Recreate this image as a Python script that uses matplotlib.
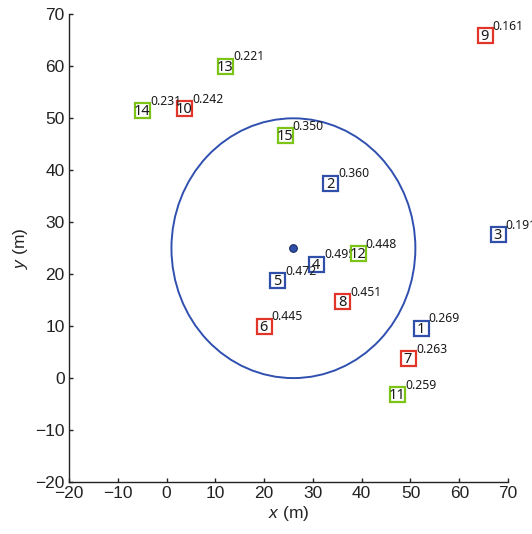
import matplotlib
matplotlib.use("Agg")
import matplotlib.pyplot as plt
from matplotlib.patches import Circle

# ---- data ----
ids = [1, 2, 3, 4, 5, 6, 7, 8, 9, 10, 11, 12, 13, 14, 15]
xs = [52.1, 33.6, 67.9, 30.7, 22.6, 19.9, 49.5, 36.0, 65.2, 3.6, 47.3, 39.2, 12.0, -5.0, 24.2]
ys = [9.7, 37.6, 27.7, 22.0, 18.8, 10.1, 3.8, 14.8, 66.0, 51.9, -3.1, 24.0, 60.1, 51.6, 46.7]
vals = ["0.269", "0.360", "0.191", "0.495", "0.472", "0.445", "0.263", "0.451",
        "0.161", "0.242", "0.259", "0.448", "0.221", "0.231", "0.350"]
groups = ["b", "b", "b", "b", "b", "r", "r", "r", "r", "r", "g", "g", "g", "g", "g"]
center = (26, 25)
radius = 25
xticks = [-20, -10, 0, 10, 20, 30, 40, 50, 60, 70]
yticks = [-20, -10, 0, 10, 20, 30, 40, 50, 60, 70]

colors = {"b": "#2f4fa8", "r": "#e2352a", "g": "#7cc416"}

plt.rcParams["font.family"] = ["Liberation Sans", "DejaVu Sans"]
plt.rcParams["mathtext.fontset"] = "custom"
plt.rcParams["mathtext.it"] = "Liberation Sans:italic"
plt.rcParams["mathtext.rm"] = "Liberation Sans"

fig = plt.figure(figsize=(5.32, 5.34), dpi=100)
ax = fig.add_axes([0.1297, 0.0974, 0.8253, 0.8756])

ax.add_patch(Circle(center, radius, fill=False, edgecolor="#3050b0", lw=1.4, zorder=1))
ax.plot([center[0]], [center[1]], "o", ms=5.5, mfc="#2f4fa8", mec="#1a2a60", mew=0.8, zorder=2)

for i, (n, x, y, v, g) in enumerate(zip(ids, xs, ys, vals, groups)):
    z = 3 + i * 0.1
    ax.plot([x], [y], "s", ms=10.8, mfc="white", mec=colors[g], mew=1.6, zorder=z)
    ax.annotate(str(n), (x, y), xytext=(0, -1), textcoords="offset points",
                ha="center", va="center", fontsize=10.5, family="Noto Sans",
                color="#1a1a1a", zorder=z + 0.01, annotation_clip=False)
    ax.annotate(v, (x, y), xytext=(5.8, 1.8), textcoords="offset points",
                ha="left", va="bottom", fontsize=8.8, family="Noto Sans",
                color="#1a1a1a", zorder=z + 0.02, annotation_clip=False)

ax.set_xlim(-20, 70)
ax.set_ylim(-20, 70)
ax.set_xticks(xticks)
ax.set_yticks(yticks)
ax.spines["top"].set_visible(False)
ax.spines["right"].set_visible(False)
for s in ["left", "bottom"]:
    ax.spines[s].set_linewidth(1.0)
    ax.spines[s].set_color("#222222")
ax.tick_params(direction="in", length=3, width=1.0, labelsize=12.5, colors="#222222", pad=3)
ax.set_xlabel("$x$ (m)", fontsize=12.5, color="#222222", labelpad=2)
ax.set_ylabel("$y$ (m)", fontsize=12.5, color="#222222", labelpad=4)

fig.savefig("out.png", dpi=100)
